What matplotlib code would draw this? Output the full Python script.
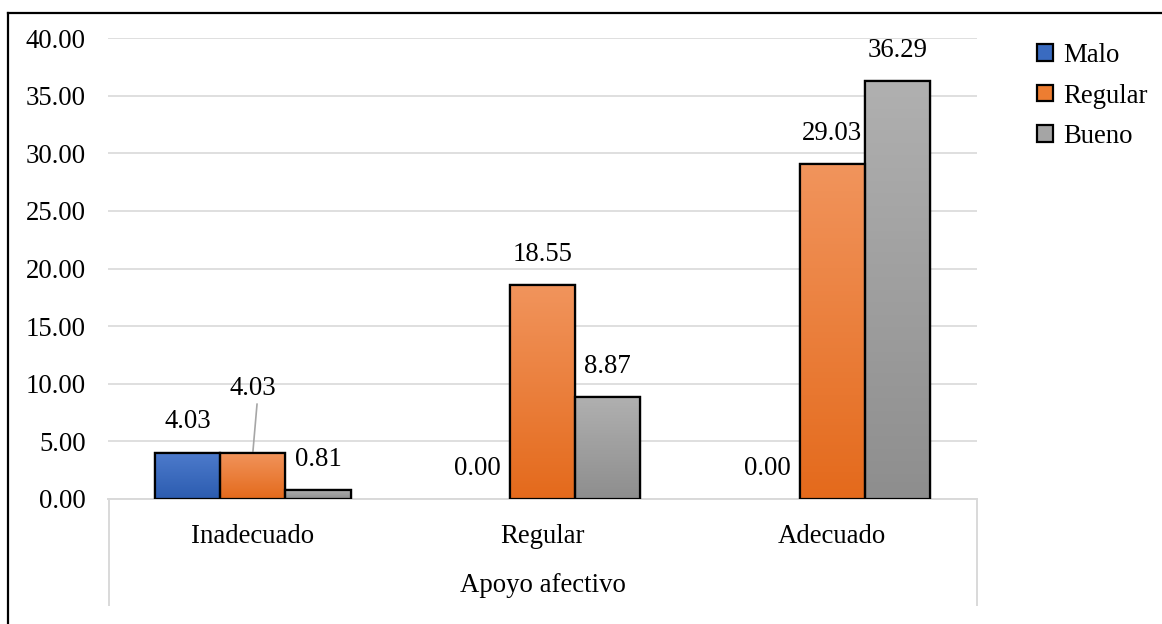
import matplotlib
matplotlib.use('Agg')
import matplotlib.pyplot as plt
import numpy as np
from matplotlib.lines import Line2D
from matplotlib.colors import LinearSegmentedColormap

plt.rcParams['font.family'] = ['Liberation Serif', 'DejaVu Serif']

categories = ['Inadecuado', 'Regular', 'Adecuado']
series = ['Malo', 'Regular', 'Bueno']
malo = [4.03, 0.00, 0.00]
regular = [4.03, 18.55, 29.03]
bueno = [0.81, 8.87, 36.29]
yticks = [0, 5, 10, 15, 20, 25, 30, 35, 40]

# gradient end colours (top, bottom) and flat colour for the legend
grad = {
    'Malo': ('#4d7bcc', '#2c5cb0'),
    'Regular': ('#f1945c', '#e46a1c'),
    'Bueno': ('#b0b0b0', '#8e8e8e'),
}
flat = {'Malo': '#3a6bc0', 'Regular': '#ed7d31', 'Bueno': '#a5a5a5'}

W, H = 1162, 624
fig = plt.figure(figsize=(W / 100, H / 100), dpi=100)
ax = fig.add_axes([108 / W, (H - 499) / H, (977 - 108) / W, (499 - 38) / H])

fs = 19.3
width = 0.225
x = np.arange(len(categories))
ax.set_xlim(-0.5, len(categories) - 0.5)
ax.set_ylim(0, 40)

for i, (name, vals) in enumerate(zip(series, [malo, regular, bueno])):
    pos = x + (i - 1) * width
    lws = [1.6 if v > 0 else 0 for v in vals]
    bars = ax.bar(pos, vals, width, color=flat[name], edgecolor='black',
                  linewidth=lws, zorder=3, label=name)
    cmap = LinearSegmentedColormap.from_list(name, [grad[name][1], grad[name][0]])
    for b, v in zip(bars, vals):
        if v <= 0:
            continue
        x0 = b.get_x()
        im = ax.imshow(np.linspace(0, 1, 100).reshape(-1, 1), cmap=cmap,
                       extent=[x0, x0 + width, 0, v], origin='lower',
                       aspect='auto', zorder=3.5)
        im.set_clip_path(b)
        ax.add_patch(plt.Rectangle((x0, 0), width, v, fill=False,
                                   edgecolor='black', linewidth=1.6, zorder=4))
    for j, (p, v) in enumerate(zip(pos, vals)):
        if name == 'Regular' and j == 0:
            # label moved up with a leader line
            ax.annotate(f'{v:.2f}', xy=(p, v), xytext=(0, 46),
                        textcoords='offset points', ha='center', va='center',
                        fontsize=fs,
                        arrowprops=dict(arrowstyle='-', color='#a6a6a6', lw=1.2,
                                        shrinkA=0, shrinkB=0, relpos=(0.6, 0.1)))
        else:
            ax.annotate(f'{v:.2f}', xy=(p, v), xytext=(0, 22),
                        textcoords='offset points', ha='center', va='center',
                        fontsize=fs)

ax.set_xlim(-0.5, len(categories) - 0.5)
ax.set_ylim(0, 40)
ax.set_yticks(yticks)
ax.set_yticklabels([f'{t:.2f}' for t in yticks], fontsize=fs)
ax.set_xticks(x)
ax.set_xticklabels(categories, fontsize=fs)
ax.tick_params(axis='y', length=0, pad=16)
ax.tick_params(axis='x', length=0, pad=18)
ax.grid(axis='y', color='#d9d9d9', linewidth=1.2, zorder=0)
for s in ['top', 'right', 'left']:
    ax.spines[s].set_visible(False)
ax.spines['bottom'].set_color('#d9d9d9')
ax.spines['bottom'].set_linewidth(1.4)
ax.spines['bottom'].set_zorder(2)
ax.set_xlabel('Apoyo afectivo', fontsize=fs, labelpad=17)

# category box under the axis
for xp in (108.5, 977):
    fig.add_artist(Line2D([xp / W, xp / W], [(H - 499) / H, (H - 605) / H],
                          color='#d9d9d9', linewidth=1.4))

# outer frame (only top and left visible)
fig.add_artist(Line2D([8 / W, 1], [(H - 13) / H, (H - 13) / H], color='black', linewidth=1.6))
fig.add_artist(Line2D([8 / W, 8 / W], [0, (H - 13) / H], color='black', linewidth=1.6))

ax.legend(loc='upper left', bbox_to_anchor=(1037 / W, (H - 43) / H),
          bbox_transform=fig.transFigure, frameon=False, fontsize=fs,
          handlelength=0.58, handleheight=0.58, handletextpad=0.4,
          labelspacing=0.58, borderpad=0, borderaxespad=0)

fig.savefig('out.png', dpi=100)
